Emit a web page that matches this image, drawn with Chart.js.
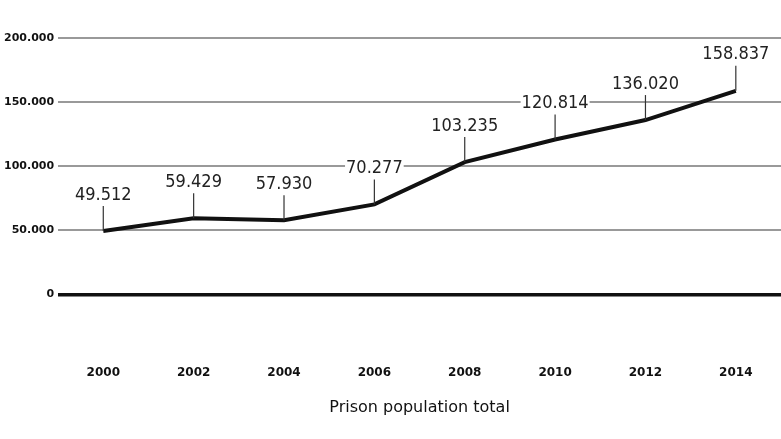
<!DOCTYPE html>
<html>
<head>
<meta charset="utf-8">
<script src="https://cdn.jsdelivr.net/npm/chart.js@4/dist/chart.umd.min.js"></script>
<style>
  html, body { margin: 0; padding: 0; background: #fff; }
  #wrap { width: 781px; height: 439px; }
</style>
</head>
<body>
<div id="wrap"><canvas id="chart" width="781" height="439"></canvas></div>
<script>
const years = ['2000', '2002', '2004', '2006', '2008', '2010', '2012', '2014']
const prisonPopulation = [49512, 59429, 57930, 70277, 103235, 120814, 136020, 158837]
const yTicks = [0, 50000, 100000, 150000, 200000]

const fmt = (v) => String(v).replace(/\B(?=(\d{3})+(?!\d))/g, '.')

// value labels with a short leader line and white backing
const pointLabels = {
  id: 'pointLabels',
  afterDatasetsDraw(chart) {
    const { ctx } = chart
    const meta = chart.getDatasetMeta(0)
    ctx.save()
    ctx.font = '18px "DejaVu Sans", sans-serif'
    ctx.fontStretch = 'condensed'
    ctx.textAlign = 'center'
    ctx.textBaseline = 'middle'
    meta.data.forEach((pt, i) => {
      const text = fmt(prisonPopulation[i])
      ctx.strokeStyle = '#333'
      ctx.lineWidth = 1.2
      ctx.beginPath()
      ctx.moveTo(pt.x, pt.y)
      ctx.lineTo(pt.x, pt.y - 25)
      ctx.stroke()
      const w = ctx.measureText(text).width
      ctx.fillStyle = '#fff'
      ctx.fillRect(pt.x - w / 2 - 1, pt.y - 46, w + 2, 20)
      ctx.fillStyle = '#222'
      ctx.fillText(text, pt.x, pt.y - 36)
    })
    ctx.restore()
  },
}

new Chart(document.getElementById('chart').getContext('2d'), {
  type: 'line',
  data: {
    labels: years,
    datasets: [
      {
        data: prisonPopulation,
        borderColor: '#111',
        borderWidth: 4,
        pointRadius: 0,
        tension: 0,
      },
    ],
  },
  options: {
    responsive: false,
    animation: false,
    layout: { padding: { top: 38, right: 0, left: 0, bottom: 18 } },
    plugins: { legend: { display: false }, tooltip: { enabled: false } },
    scales: {
      x: {
        offset: true,
        grid: { display: false },
        border: { display: false },
        ticks: {
          padding: 18,
          color: '#111',
          font: { family: '"DejaVu Sans", sans-serif', size: 12, weight: 'bold' },
        },
        title: {
          display: true,
          text: 'Prison population total',
          color: '#111',
          padding: { top: 0 },
          font: { family: '"DejaVu Sans", sans-serif', size: 16 },
        },
      },
      y: {
        min: -35000,
        max: 200000,
        afterBuildTicks: (axis) => {
          axis.ticks = yTicks.map((v) => ({ value: v }))
        },
        border: { display: false },
        grid: {
          drawTicks: false,
          color: (c) => (c.tick && c.tick.value === 0 ? '#111' : '#999'),
          lineWidth: (c) => (c.tick && c.tick.value === 0 ? 3.5 : 2),
        },
        ticks: {
          padding: 4,
          color: '#111',
          callback: (v) => fmt(v),
          font: { family: '"DejaVu Sans", sans-serif', size: 11, weight: 'bold' },
        },
      },
    },
  },
  plugins: [pointLabels],
})
</script>
</body>
</html>
